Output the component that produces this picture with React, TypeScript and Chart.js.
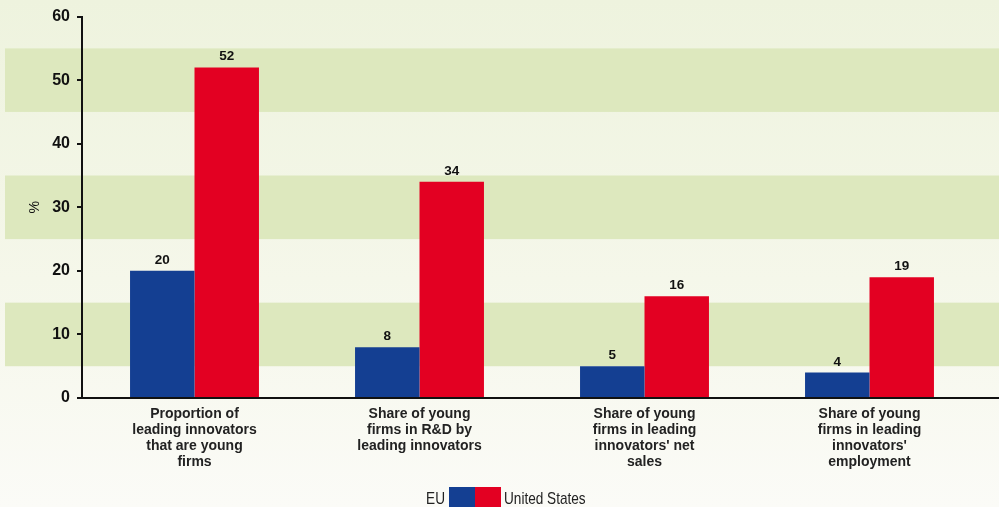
import React, { useEffect, useRef } from 'react';
import { Chart, registerables } from 'chart.js';
Chart.register(...registerables);

const categories: string[][] = [
  ['Proportion of', 'leading innovators', 'that are young', 'firms'],
  ['Share of young', 'firms in R&D by', 'leading innovators'],
  ['Share of young', 'firms in leading', "innovators' net", 'sales'],
  ['Share of young', 'firms in leading', "innovators'", 'employment'],
];
const euValues = [20, 8, 5, 4];
const usValues = [52, 34, 16, 19];
const seriesNames = ['EU', 'United States'];
const yTickMin = 0;
const yTickMax = 60;
const yTickStep = 10;
const bands: [number, number][] = [[5, 15], [25, 35], [45, 55]];
const axisTitle = '%';

const FONT = '"Liberation Sans", Arial, Helvetica, sans-serif';
const BLUE = '#143f92';
const RED = '#e30022';

const decorPlugin = {
  id: 'decor',
  beforeDraw(chart: any) {
    const { ctx, width, height, scales } = chart;
    ctx.save();
    const g = ctx.createLinearGradient(0, 0, 0, height);
    g.addColorStop(0, '#eef3de');
    g.addColorStop(0.55, '#f5f7ea');
    g.addColorStop(1, '#fbfbf7');
    ctx.fillStyle = g;
    ctx.fillRect(0, 0, width, height);
    ctx.fillStyle = '#dde8be';
    const y = scales.y;
    for (const [a, b] of bands) {
      const y1 = y.getPixelForValue(b);
      const y2 = y.getPixelForValue(a);
      ctx.fillRect(5, y1, width - 5, y2 - y1);
    }
    ctx.restore();
  },
  afterDatasetsDraw(chart: any) {
    const { ctx, width, chartArea, scales } = chart;
    ctx.save();
    const y0 = scales.y.getPixelForValue(0);
    ctx.strokeStyle = '#111';
    ctx.lineWidth = 2;
    ctx.beginPath();
    ctx.moveTo(chartArea.left - 1, y0);
    ctx.lineTo(width, y0);
    ctx.stroke();
    // value labels
    ctx.fillStyle = '#111';
    ctx.font = `bold 13.5px ${FONT}`;
    ctx.textAlign = 'center';
    ctx.textBaseline = 'alphabetic';
    chart.data.datasets.forEach((ds: any, i: number) => {
      const meta = chart.getDatasetMeta(i);
      meta.data.forEach((bar: any, j: number) => {
        ctx.fillText(String(ds.data[j]), bar.x, bar.y - 7);
      });
    });
    // y title
    ctx.save();
    ctx.translate(35, (chartArea.top + chartArea.bottom) / 2);
    ctx.rotate(-Math.PI / 2);
    ctx.font = `14px ${FONT}`;
    ctx.textAlign = 'center';
    ctx.textBaseline = 'middle';
    ctx.fillText(axisTitle, 0, 0);
    ctx.restore();
    // legend
    const ds = chart.data.datasets;
    const boxW = 26, boxH = 22;
    const cx = 475;
    const by = 487;
    ctx.fillStyle = ds[0].backgroundColor;
    ctx.fillRect(cx - boxW, by, boxW, boxH);
    ctx.fillStyle = ds[1].backgroundColor;
    ctx.fillRect(cx, by, boxW, boxH);
    ctx.fillStyle = '#222';
    ctx.font = `17px ${FONT}`;
    ctx.textBaseline = 'alphabetic';
    const sx = 0.8;
    ctx.save();
    ctx.scale(sx, 1);
    ctx.textAlign = 'right';
    ctx.fillText(ds[0].label, (cx - boxW - 4) / sx, 504);
    ctx.textAlign = 'left';
    ctx.fillText(ds[1].label, (cx + boxW + 3) / sx, 504);
    ctx.restore();
    ctx.restore();
  },
};

export default function App() {
  const ref = useRef<HTMLCanvasElement>(null);
  useEffect(() => {
    document.body.style.margin = '0';
    const chart = new Chart(ref.current!, {
      type: 'bar',
      data: {
        labels: categories,
        datasets: [
          { label: seriesNames[0], data: euValues, backgroundColor: BLUE },
          { label: seriesNames[1], data: usValues, backgroundColor: RED },
        ],
      },
      plugins: [decorPlugin],
      options: {
        animation: false,
        responsive: false,
        events: [],
        layout: { padding: { top: 16, left: 0, right: 17, bottom: 0 } },
        datasets: { bar: { categoryPercentage: 0.573, barPercentage: 1 } },
        plugins: { legend: { display: false }, tooltip: { enabled: false } },
        scales: {
          x: {
            grid: { display: false },
            border: { display: false },
            ticks: {
              color: '#222',
              font: { family: FONT, size: 14, weight: 'bold', lineHeight: 1.15 },
              padding: 0,
              maxRotation: 0,
              autoSkip: false,
            },
            afterFit: (s: any) => { s.height = 109; },
          },
          y: {
            min: yTickMin,
            max: yTickMax,
            ticks: {
              stepSize: yTickStep,
              color: '#111',
              font: { family: FONT, size: 16, weight: 'bold' },
              padding: 7,
            },
            grid: { drawOnChartArea: false, drawTicks: true, tickLength: 5, color: '#111', lineWidth: 2 },
            border: { display: true, color: '#111', width: 2 },
            afterFit: (s: any) => { s.width = 82; },
          },
        },
      },
    } as any);
    return () => chart.destroy();
  }, []);
  return <canvas ref={ref} width={999} height={507} style={{ display: 'block' }} />;
}
